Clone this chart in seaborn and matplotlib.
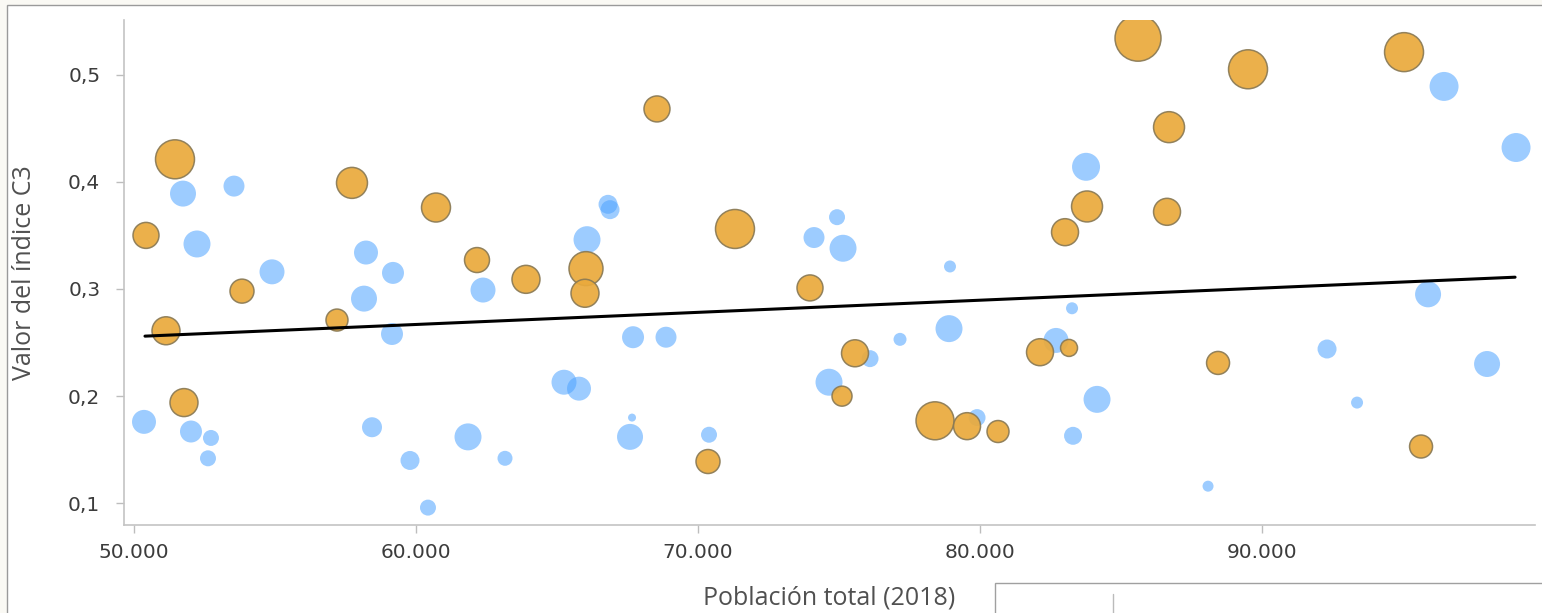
import numpy as np
import pandas as pd
import matplotlib
matplotlib.use("Agg")
import matplotlib.pyplot as plt
from matplotlib.patches import Rectangle
from matplotlib.lines import Line2D
from matplotlib.ticker import FuncFormatter
import seaborn as sns

# Municipios grupo naranja: población, índice C3, tamaño de burbuja
pob_naranja = [50426, 51135, 51454, 51773, 53830, 57198, 57730, 60709, 62163, 63900,
               66028, 65992, 68545, 71311, 70354, 73971, 75106, 75567, 78404, 79539,
               80638, 82127, 83156, 83014, 83794, 85602, 86702, 86631, 88440, 89503,
               95035, 95638]
c3_naranja = [0.350, 0.261, 0.421, 0.194, 0.298, 0.271, 0.399, 0.376, 0.327, 0.309,
              0.319, 0.296, 0.468, 0.356, 0.139, 0.301, 0.200, 0.240, 0.177, 0.172,
              0.167, 0.241, 0.245, 0.353, 0.377, 0.534, 0.451, 0.372, 0.231, 0.505,
              0.521, 0.153]
tam_naranja = [13, 14, 19.5, 14, 12, 11, 15.5, 14.5, 12.5, 14,
               17, 14, 13, 19.5, 12, 13, 10, 13.5, 19, 13.5,
               11, 13.5, 8.5, 13.5, 15.5, 23, 15.5, 13.5, 11.5, 19.5,
               19.5, 11.5]

# Municipios grupo azul
pob_azul = [50355, 51738, 52021, 52234, 52730, 52624, 53546, 54894, 58156, 58227,
            58440, 59149, 59184, 59787, 60425, 61844, 62376, 63156, 65248, 65780,
            66064, 66809, 66880, 67589, 67696, 67660, 68865, 70390, 74113, 74929,
            75142, 74645, 76099, 77163, 78900, 78935, 79894, 82695, 83262, 83298,
            83759, 84149, 88085, 92305, 93369, 95887, 96454, 97979, 99007]
c3_azul = [0.176, 0.389, 0.167, 0.342, 0.161, 0.142, 0.396, 0.316, 0.291, 0.334,
           0.171, 0.258, 0.315, 0.140, 0.096, 0.162, 0.299, 0.142, 0.213, 0.207,
           0.346, 0.379, 0.374, 0.162, 0.255, 0.180, 0.255, 0.164, 0.348, 0.367,
           0.338, 0.213, 0.235, 0.253, 0.263, 0.321, 0.180, 0.252, 0.282, 0.163,
           0.414, 0.197, 0.116, 0.244, 0.194, 0.295, 0.489, 0.230, 0.432]
tam_azul = [12, 13, 11, 13.5, 8, 8, 10.5, 12.5, 13, 12,
            10, 11, 11, 9.5, 8, 13.5, 12.5, 7.5, 12.5, 12,
            13.5, 9.5, 9.5, 13, 11, 4, 10.5, 8, 10.5, 8,
            13.5, 13.5, 8.5, 6.5, 13.5, 6, 8.5, 12.5, 6, 9,
            14, 13.5, 5.5, 9.5, 6, 13, 14.5, 13, 14.5]

# Línea de tendencia (extremos)
tend_x = [50390, 98972]
tend_y = [0.256, 0.311]

x_ticks = [50000, 60000, 70000, 80000, 90000]
y_ticks = [0.1, 0.2, 0.3, 0.4, 0.5]

df_n = pd.DataFrame({"pob": pob_naranja, "c3": c3_naranja, "area": np.array(tam_naranja) ** 2})
df_a = pd.DataFrame({"pob": pob_azul, "c3": c3_azul, "area": np.array(tam_azul) ** 2})

sns.set_style("white")
plt.rcParams["font.family"] = ["DejaVu Sans"]

fig = plt.figure(figsize=(15.42, 6.13), dpi=100, facecolor="#faf9f4")
ax = fig.add_axes([0.0804, 0.1436, 0.9151, 0.8238])

# marco exterior y caja inferior derecha
fig.patches.append(Rectangle((0.0045, -0.02), 1.1, 1.012, transform=fig.transFigure,
                             facecolor="white", edgecolor="#9a9a9a", linewidth=1, zorder=-10))
fig.patches.append(Rectangle((0.6453, -0.02), 0.5, 0.0689, transform=fig.transFigure,
                             facecolor="white", edgecolor="#a0a0a0", linewidth=1, zorder=5))
fig.lines.append(Line2D([0.7218, 0.7218], [0.0, 0.031], transform=fig.transFigure,
                        color="#bbbbbb", linewidth=1, zorder=6))

k = 2.07  # radio en px -> area en pt^2
all_area = np.concatenate([df_n["area"], df_a["area"]])
norm = (all_area.min(), all_area.max())
srange = (k * norm[0], k * norm[1])

sns.scatterplot(data=df_a, x="pob", y="c3", size="area", sizes=srange, size_norm=norm,
                color="#4da3ff", alpha=0.55, edgecolor="none", linewidth=0,
                legend=False, ax=ax, zorder=2)
sns.scatterplot(data=df_n, x="pob", y="c3", size="area", sizes=srange, size_norm=norm,
                color="#eaaa3c", alpha=0.92, edgecolor="#8a7a55", linewidth=1.1,
                legend=False, ax=ax, zorder=3)
sns.lineplot(x=tend_x, y=tend_y, color="black", linewidth=2.2, ax=ax, zorder=4)

ax.set_xlim(49645, 99681)
ax.set_ylim(0.0798, 0.551)
ax.set_xticks(x_ticks)
ax.set_yticks(y_ticks)
ax.xaxis.set_major_formatter(FuncFormatter(lambda v, p: f"{int(v):,}".replace(",", ".")))
ax.yaxis.set_major_formatter(FuncFormatter(lambda v, p: f"{v:.1f}".replace(".", ",")))

for s in ["top", "right"]:
    ax.spines[s].set_visible(False)
for s in ["left", "bottom"]:
    ax.spines[s].set_color("#c4c4c4")
    ax.spines[s].set_linewidth(1.2)

ax.tick_params(axis="both", which="major", length=6, width=1, color="#bdbdbd",
               labelsize=14.5, labelcolor="#3c3c3c", bottom=True, left=True)
ax.tick_params(axis="y", pad=11)
ax.tick_params(axis="x", pad=7)

ax.set_xlabel("Población total (2018)", family=["Open Sans", "DejaVu Sans"],
              fontsize=18, color="#505050", va="center")
ax.set_ylabel("Valor del índice C3", family=["Open Sans", "DejaVu Sans"],
              fontsize=18, color="#505050", va="center")
ax.xaxis.set_label_coords(0.5, -0.1446)
ax.yaxis.set_label_coords(-0.0702, 0.5)

fig.savefig("out.png", dpi=100, facecolor=fig.get_facecolor())
